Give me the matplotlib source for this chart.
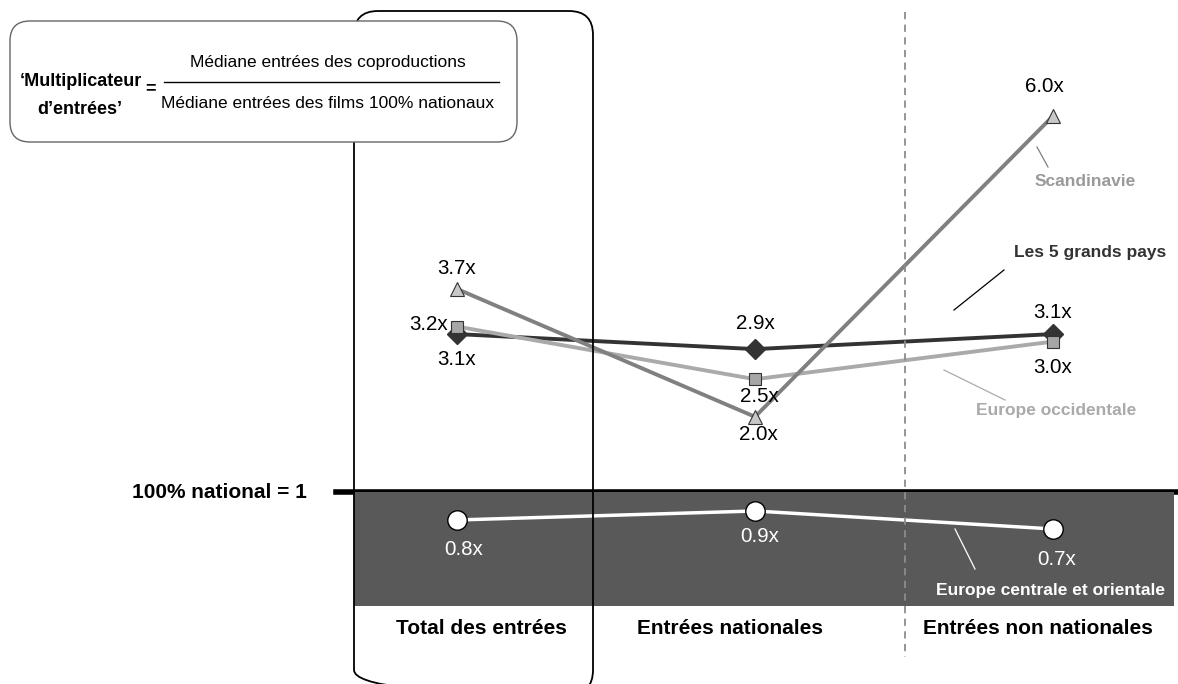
"""Multiplicateur d'entrées : coproductions vs films 100% nationaux."""
import matplotlib
matplotlib.use("Agg")
import matplotlib.pyplot as plt
from matplotlib.lines import Line2D
from matplotlib.patches import FancyBboxPatch
from matplotlib.transforms import Affine2D

plt.rcParams.update({
    "font.family": ["Liberation Sans", "DejaVu Sans"],
    "font.size": 12.5,
})

W, H = 1178, 684

categories = ["Total des entrées", "Entrées nationales",
              "Entrées non nationales"]
big5 = [3.1, 2.9, 3.1]          # Les 5 grands pays
west = [3.2, 2.5, 3.0]          # Europe occidentale
scand = [3.7, 2.0, 6.0]         # Scandinavie
central = [0.8, 0.9, 0.7]       # Europe centrale et orientale
baseline = 1.0                  # 100% national = 1

fig = plt.figure(figsize=(W / 100, H / 100), dpi=100)
# pixel coords, y measured from the top
PX = Affine2D().scale(1 / W, -1 / H).translate(0, 1) + fig.transFigure

X0, XSTEP = 457, 298            # pixel of first category, pixels per category


def add_ax(l, t, r, b):
    a = fig.add_axes([l / W, 1 - b / H, (r - l) / W, (b - t) / H])
    a.set_xlim((l - X0) / XSTEP, (r - X0) / XSTEP)
    return a


# upper panel (values above 1)
ax = add_ax(354, 0, 1178, 492)
ax.set_ylim(baseline, baseline + 492 / 75.2)
ax.axis("off")

# lower band (values below 1)
axb = add_ax(354, 492, 1174, 606)
axb.set_ylim(-0.156, 1.111)
axb.set_facecolor("#595959")
axb.set_xticks([])
axb.set_yticks([])
for s in axb.spines.values():
    s.set_visible(False)

x = list(range(len(categories)))
ax.plot(x, big5, color="#333333", lw=2.8, marker="D", ms=10.5,
        mfc="#333333", mec="#333333", zorder=3, clip_on=False)
ax.plot(x, west, color="#aaaaaa", lw=2.8, marker="s", ms=8.5,
        mfc="#a6a6a6", mec="#333333", mew=0.8, zorder=4, clip_on=False)
ax.plot(x, scand, color="#808080", lw=2.8, marker="^", ms=9.5,
        mfc="#c8c8c8", mec="#333333", mew=0.8, zorder=4, clip_on=False)
axb.plot(x, central, color="white", lw=2.5, marker="o", ms=14,
         mfc="white", mec="black", mew=1, zorder=3)

# value labels (offsets in pixels)
offs = {
    "big5": [(0, -25), (0, 26), (0, 22)],
    "west": [(-29, 2), (4, -17), (0, -26)],
    "scand": [(0, 20), (3, -18), (-9, 30)],
    "central": [(7, -30), (5, -26), (4, -31)],
}
series = [(ax, big5, "big5", "black"), (ax, west, "west", "black"),
          (ax, scand, "scand", "black"), (axb, central, "central", "white")]
for a, vals, key, col in series:
    for xi, v, o in zip(x, vals, offs[key]):
        a.annotate(f"{v:.1f}x", (xi, v), xytext=o,
                   textcoords="offset pixels", ha="center", va="center",
                   fontsize=14.8, color=col, zorder=6,
                   annotation_clip=False)

# 100% national line
ax.axhline(baseline, xmin=(336 - 354) / 824, xmax=1, color="black",
           lw=4, clip_on=False, zorder=5)
fig.text(307, 492, "100% national = 1", transform=PX, ha="right",
         va="center", fontweight="bold", fontsize=15)

# dashed separator
fig.add_artist(Line2D([905, 905], [12, 657], transform=PX,
                      color="#8c8c8c", lw=1.3, ls=(0, (4, 3)), zorder=2))

# tall rounded frame around first category
fig.add_artist(FancyBboxPatch((354, 11), 593 - 354, 694 - 11,
                              boxstyle="round,pad=0,rounding_size=24",
                              transform=PX, fc="none", ec="black",
                              lw=1.3, zorder=2))

# formula box
fig.add_artist(FancyBboxPatch((10, 21), 507, 121,
                              boxstyle="round,pad=0,rounding_size=20",
                              transform=PX, fc="white", ec="#666666",
                              lw=1, zorder=3))
fig.text(81, 82, "‘Multiplicateur", transform=PX, ha="center",
         va="center", fontweight="bold", fontsize=13, zorder=4)
fig.text(80, 110, "d’entrées’", transform=PX, ha="center",
         va="center", fontweight="bold", fontsize=13, zorder=4)
fig.text(151, 89, "=", transform=PX, ha="center", va="center",
         fontweight="bold", fontsize=13, zorder=4)
fig.add_artist(Line2D([164, 499], [82, 82], transform=PX,
                      color="black", lw=1, zorder=4))
fig.text(328, 63, "Médiane entrées des coproductions", transform=PX,
         ha="center", va="center", zorder=4)
fig.text(328, 103, "Médiane entrées des films 100% nationaux",
         transform=PX, ha="center", va="center", zorder=4)

# series names with leader lines
names = [
    ("Scandinavie", (1085, 182), "#9a9a9a",
     ((1037, 147), (1048, 167)), "#808080"),
    ("Les 5 grands pays", (1090, 253), "#333333",
     ((1004, 270), (954, 310)), "black"),
    ("Europe occidentale", (1056, 411), "#aaaaaa",
     ((944, 370), (1005, 400)), "#aaaaaa"),
    ("Europe centrale et orientale", (1050, 590), "white",
     ((955, 529), (975, 569)), "white"),
]
for txt, (tx, ty), tcol, (p0, p1), lcol in names:
    fig.text(tx, ty, txt, transform=PX, ha="center", va="center",
             fontweight="bold", color=tcol, zorder=4)
    fig.add_artist(Line2D([p0[0], p1[0]], [p0[1], p1[1]], transform=PX,
                          color=lcol, lw=0.9, zorder=4))

# category labels
for cx, cat in zip([481, 730, 1038], categories):
    fig.text(cx, 629, cat, transform=PX, ha="center", va="center",
             fontweight="bold", fontsize=15)

fig.savefig("out.png", dpi=100)
